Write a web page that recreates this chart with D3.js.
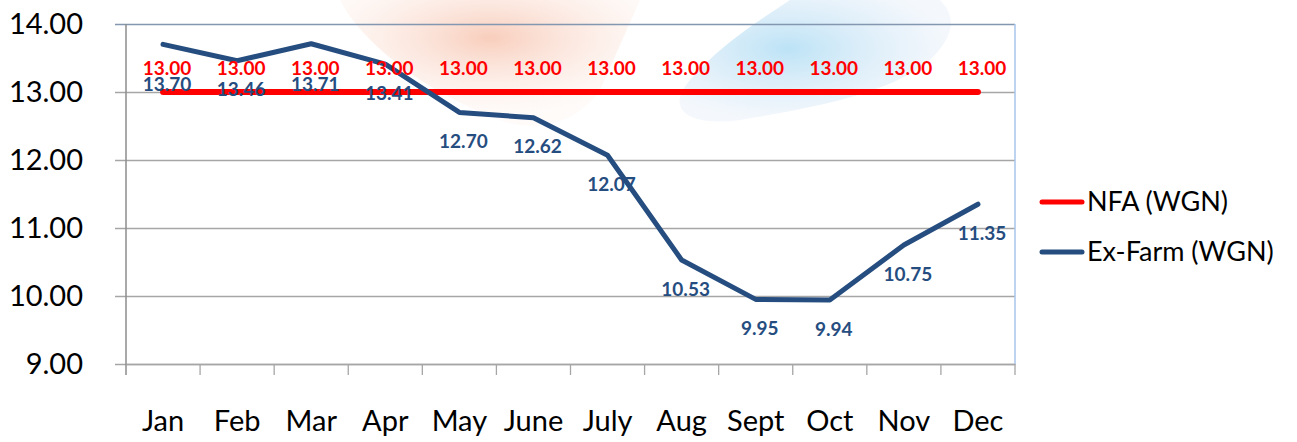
<!DOCTYPE html>
<html>
<head>
<meta charset="utf-8">
<script src="https://cdn.jsdelivr.net/npm/d3@7"></script>
<style>
  html, body { margin: 0; padding: 0; background: #fff; }
  svg { display: block; font-family: Lato, "Open Sans", sans-serif; }
</style>
</head>
<body>
<div id="chart"></div>
<script>
var months = ["Jan", "Feb", "Mar", "Apr", "May", "June", "July", "Aug", "Sept", "Oct", "Nov", "Dec"];
var nfa = [13.00, 13.00, 13.00, 13.00, 13.00, 13.00, 13.00, 13.00, 13.00, 13.00, 13.00, 13.00];
var exFarm = [13.70, 13.46, 13.71, 13.41, 12.70, 12.62, 12.07, 10.53, 9.95, 9.94, 10.75, 11.35];
var yTicks = [9, 10, 11, 12, 13, 14];
var seriesNames = ["NFA (WGN)", "Ex-Farm (WGN)"];

var W = 1297, H = 442;
var margin = {top: 24, right: 282, bottom: 78, left: 126};
var width = W - margin.left - margin.right,   // 889
    height = H - margin.top - margin.bottom; // 340

var svg = d3.select("#chart").append("svg")
    .attr("width", W)
    .attr("height", H);

// faint watermark behind the plot
var defs = svg.append("defs");
var gOr = defs.append("radialGradient").attr("id", "wmOrange").attr("cx", "50%").attr("cy", "30%").attr("r", "60%");
gOr.append("stop").attr("offset", "0%").attr("stop-color", "#f3a585").attr("stop-opacity", 0.55);
gOr.append("stop").attr("offset", "100%").attr("stop-color", "#fbe3d8").attr("stop-opacity", 0.15);
var gBl = defs.append("radialGradient").attr("id", "wmBlue").attr("cx", "40%").attr("cy", "40%").attr("r", "60%");
gBl.append("stop").attr("offset", "0%").attr("stop-color", "#8fd0f0").attr("stop-opacity", 0.6);
gBl.append("stop").attr("offset", "100%").attr("stop-color", "#c9dcf2").attr("stop-opacity", 0.2);

var wm = svg.append("g").attr("class", "watermark");
wm.append("path")
    .attr("d", "M340,0 C360,40 420,90 500,120 C540,135 580,120 600,90 L640,0 Z")
    .attr("fill", "url(#wmOrange)");
wm.append("path")
    .attr("d", "M940,0 C960,20 950,40 930,60 C890,95 800,110 740,120 C700,126 660,115 690,80 C720,45 760,20 790,0 Z")
    .attr("fill", "url(#wmBlue)");

var g = svg.append("g")
    .attr("transform", "translate(" + margin.left + "," + margin.top + ")");

var x = d3.scaleBand()
    .domain(months)
    .range([0, width])
    .padding(0);

var y = d3.scaleLinear()
    .domain([9, 14])
    .range([height, 0]);

var cx = function(d, i) { return x(months[i]) + x.bandwidth() / 2; };

// gridlines with outward tick
var grid = g.append("g").attr("class", "grid")
    .call(d3.axisLeft(y).tickValues(yTicks).tickSize(-width).tickFormat(""));
grid.select(".domain").remove();
grid.selectAll(".tick line")
    .attr("stroke", "#a6a6a6")
    .attr("stroke-width", 1.3)
    .attr("x1", -11);
grid.selectAll(".tick").filter(function(d) { return d === 14; }).select("line")
    .attr("stroke", "#8497b0");

// y axis labels
var yAxis = g.append("g")
    .call(d3.axisLeft(y).tickValues(yTicks).tickSize(0).tickPadding(43).tickFormat(d3.format(".2f")));
yAxis.select(".domain").remove();
yAxis.selectAll("text")
    .attr("font-family", "Lato, sans-serif")
    .attr("font-size", 29)
    .attr("fill", "#000");

// left axis line
g.append("line")
    .attr("x1", 0).attr("x2", 0).attr("y1", 0).attr("y2", height + 11)
    .attr("stroke", "#8c8c8c").attr("stroke-width", 1.5);

// right border
g.append("line")
    .attr("x1", width).attr("x2", width).attr("y1", 0).attr("y2", height)
    .attr("stroke", "#a9c4eb").attr("stroke-width", 1.5);

// x axis with ticks at band edges
var xAxis = g.append("g")
    .attr("transform", "translate(0," + height + ")")
    .call(d3.axisBottom(x).tickSize(0).tickPadding(46));
xAxis.select(".domain").attr("stroke", "#a6a6a6").attr("stroke-width", 1.3);
xAxis.selectAll("text")
    .attr("font-family", "Lato, sans-serif")
    .attr("font-size", 29)
    .attr("fill", "#000");

g.append("g").selectAll("line")
    .data(months)
    .enter().append("line")
    .attr("x1", function(d) { return x(d) + x.bandwidth(); })
    .attr("x2", function(d) { return x(d) + x.bandwidth(); })
    .attr("y1", height)
    .attr("y2", height + 11)
    .attr("stroke", "#a6a6a6")
    .attr("stroke-width", 1.3);

var line = d3.line()
    .x(cx)
    .y(function(d) { return y(d); });

// NFA line
g.append("path")
    .datum(nfa)
    .attr("d", line)
    .attr("fill", "none")
    .attr("stroke", "#ff0000")
    .attr("stroke-width", 6)
    .attr("stroke-linecap", "round");

// Ex-Farm line
g.append("path")
    .datum(exFarm)
    .attr("d", line)
    .attr("fill", "none")
    .attr("stroke", "#264d7f")
    .attr("stroke-width", 5)
    .attr("stroke-linecap", "round")
    .attr("stroke-linejoin", "round");

// data labels
var nfaLabelY = function(d) { return y(d) - 24; };

g.append("g").selectAll("text")
    .data(nfa)
    .enter().append("text")
    .attr("x", function(d, i) { return cx(d, i) + 4; })
    .attr("y", nfaLabelY)
    .attr("dy", "0.35em")
    .attr("text-anchor", "middle")
    .attr("font-family", "Lato, sans-serif")
    .attr("font-weight", "bold")
    .attr("font-size", 19)
    .attr("fill", "#ff0000")
    .text(function(d) { return d.toFixed(2); });

// ex-farm labels go below the point, pushed down a bit where they would hit the red ones
g.append("g").selectAll("text")
    .data(exFarm)
    .enter().append("text")
    .attr("x", function(d, i) { return cx(d, i) + 4; })
    .attr("y", function(d, i) { return Math.max(y(d) + 29, nfaLabelY(nfa[i]) + 16); })
    .attr("dy", "0.35em")
    .attr("text-anchor", "middle")
    .attr("font-family", "Lato, sans-serif")
    .attr("font-weight", "bold")
    .attr("font-size", 19)
    .attr("fill", "#264d7f")
    .text(function(d) { return d.toFixed(2); });

// legend
var legendColors = ["#ff0000", "#264d7f"];
var legend = svg.append("g")
    .attr("transform", "translate(1042,202)");
var item = legend.selectAll("g")
    .data(seriesNames)
    .enter().append("g")
    .attr("transform", function(d, i) { return "translate(0," + (i * 50) + ")"; });
item.append("line")
    .attr("x1", 0).attr("x2", 40)
    .attr("stroke", function(d, i) { return legendColors[i]; })
    .attr("stroke-width", 5)
    .attr("stroke-linecap", "round");
item.append("text")
    .attr("x", 45)
    .attr("dy", "0.35em")
    .attr("font-family", "Lato, sans-serif")
    .attr("font-size", 27)
    .attr("fill", "#000")
    .text(function(d) { return d; });
</script>
</body>
</html>
